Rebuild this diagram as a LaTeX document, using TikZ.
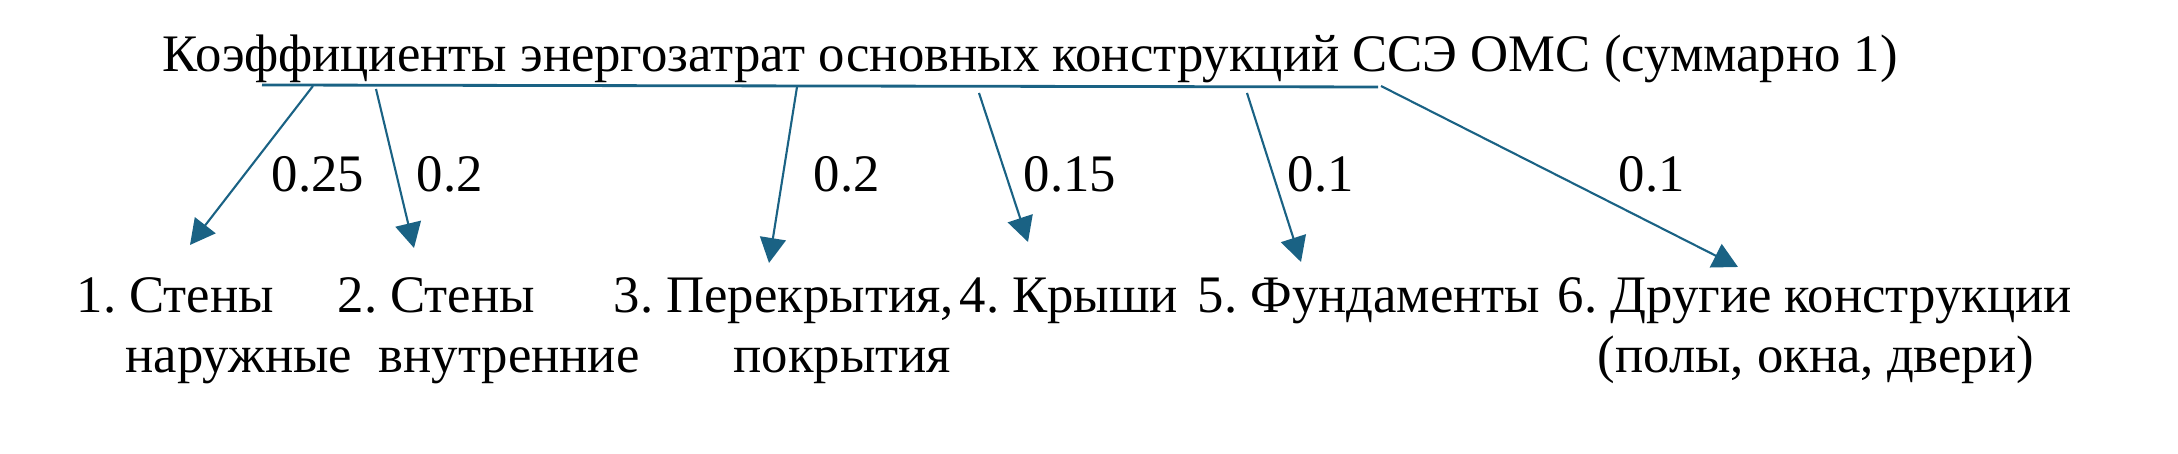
\documentclass[tikz,border=0pt]{standalone}
\usepackage{fontspec}
\setmainfont{Liberation Serif}
\usepackage{tikz}
\usetikzlibrary{arrows.meta}
\definecolor{arrblue}{RGB}{26,98,132}
\frenchspacing

\begin{document}
\begin{tikzpicture}[
    txt/.style={font=\fontsize{15}{18}\selectfont, inner sep=0, anchor=base west},
    bar/.style={arrblue, line width=0.8pt},
    arr/.style={arrblue, line width=0.6pt, -{Triangle[length=0.25cm, width=0.26cm]}}
    ]
    \useasboundingbox (0, 0) rectangle (21.78, 4.54);
    \node[txt] (title) at (1.62, 3.82) {Коэффициенты энергозатрат основных конструкций ССЭ ОМС (суммарно 1)};
    % line under the title
    \coordinate (b1) at (2.62, 3.69);
    \coordinate (b2) at (13.78, 3.67);
    \draw[bar] (b1) -- (b2);
    \foreach \i/\sx/\sy/\tx/\ty in {1/3.13/3.68/1.90/2.09, 2/3.76/3.65/4.14/2.06,
        3/7.97/3.67/7.69/1.91, 4/9.79/3.61/10.28/2.12,
        5/12.47/3.61/13.01/1.92, 6/13.81/3.68/17.38/1.87} {
      \coordinate (s\i) at (\sx, \sy);
      \coordinate (t\i) at (\tx, \ty);
      \draw[arr] (s\i) -- (t\i);
    }
    % coefficients
    \node[txt] (k1) at (2.71, 2.62) {0.25};
    \node[txt] (k2) at (4.16, 2.62) {0.2};
    \node[txt] (k3) at (8.13, 2.62) {0.2};
    \node[txt] (k4) at (10.23, 2.62) {0.15};
    \node[txt] (k5) at (12.87, 2.62) {0.1};
    \node[txt] (k6) at (16.18, 2.62) {0.1};
    % constructions
    \node[txt] (n1) at (0.76, 1.41) {1. Стены};
    \node[txt] (n1b) at (1.25, 0.81) {наружные};
    \node[txt] (n2) at (3.37, 1.41) {2. Стены};
    \node[txt] (n2b) at (3.78, 0.81) {внутренние};
    \node[txt] (n3) at (6.13, 1.41) {3. Перекрытия,};
    \node[txt] (n3b) at (7.33, 0.81) {покрытия};
    \node[txt] (n4) at (9.59, 1.41) {4. Крыши};
    \node[txt] (n5) at (11.97, 1.41) {5. Фундаменты};
    \node[txt] (n6) at (15.57, 1.41) {6. Другие конструкции};
    \node[txt] (n6b) at (15.97, 0.81) {(полы, окна, двери)};
  \end{tikzpicture}
\end{document}
